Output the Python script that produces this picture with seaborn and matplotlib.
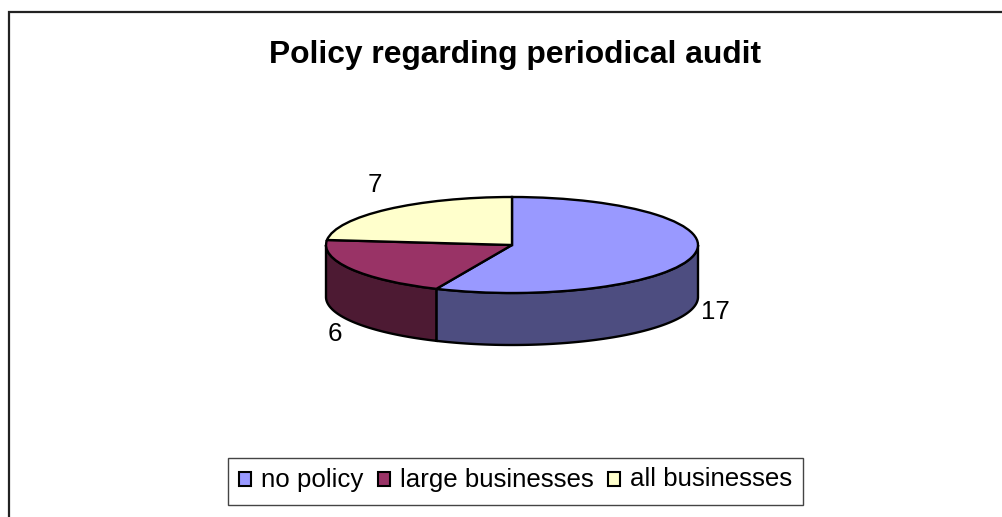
"""
Policy regarding periodical audit: 3D look pie, drawn on a squashed pie axes.
"""
import matplotlib
matplotlib.use("Agg")
import matplotlib.pyplot as plt
import numpy as np
import seaborn as sns

labels = ["no policy", "large businesses", "all businesses"]
counts = [17, 6, 7]
top_colors = ["#9999FF", "#993366", "#FFFFCC"]
side_colors = ["#4D4D80", "#4D1A33", "#808066"]

W, H = 1002, 517
CX, CY = 512, 245    # pie centre, pixels
RX, RY = 186, 48     # radii of the top ellipse, pixels
DEPTH = 52 / RY      # wall height in axes data units

sns.set_theme(style="white")
plt.rcParams["font.family"] = ["Liberation Sans", "DejaVu Sans"]

fig = plt.figure(figsize=(W / 100, H / 100), dpi=100, facecolor="white")

# frame of the chart area, open on right and bottom
bg = fig.add_axes([0, 0, 1, 1])
bg.set_xlim(0, W)
bg.set_ylim(H, 0)
bg.axis("off")
bg.plot([9.5, 9.5, 1002], [517, 11.5, 11.5], color="#222222", lw=1.6,
        solid_joinstyle="miter")

# axes spans pie radius 3 each way so x=+-1 lands on RX, RY and walls fit
span = 3
ax = fig.add_axes([(CX - span * RX) / W, 1 - (CY + span * RY) / H,
                   2 * span * RX / W, 2 * span * RY / H])
ax.patch.set_alpha(0)

# walls first, only the part of the rim facing the viewer (lower half)
edges = np.cumsum([0] + counts) / sum(counts) * 2 * np.pi
for i in range(len(counts)):
    a0, a1 = edges[i], edges[i + 1]
    lo, hi = max(a0, np.pi / 2), min(a1, 3 * np.pi / 2)
    if hi <= lo:
        continue
    t = np.linspace(lo, hi, 200)
    x, y = np.sin(t), np.cos(t)
    ax.fill(np.r_[x, x[::-1]], np.r_[y, y[::-1] - DEPTH],
            facecolor=side_colors[i], edgecolor="black", lw=1.7, zorder=1)

ax.pie(counts, colors=top_colors, startangle=90, counterclock=False, radius=1,
       wedgeprops={"edgecolor": "black", "linewidth": 1.7, "zorder": 2})
ax.set_aspect("auto")
ax.set_xlim(-span, span)
ax.set_ylim(-span, span)

# count labels
label_pos = [(715, 312), (335, 334), (375, 185)]
for n, (px, py) in zip(counts, label_pos):
    bg.text(px, py, str(n), fontsize=18.6, color="black", ha="center", va="center")

bg.text(515, 55, "Policy regarding periodical audit", fontsize=22.9, fontweight="bold",
        color="black", ha="center", va="center")

# legend box built by matplotlib
handles = [plt.Rectangle((0, 0), 1, 1, facecolor=c, edgecolor="black", lw=1.5)
           for c in top_colors]
leg = fig.legend(handles, labels, ncol=3, loc="center", bbox_to_anchor=(515.5 / W, 1 - 481.5 / H),
                 fontsize=18.6, labelcolor="black", frameon=True, fancybox=False,
                 edgecolor="#444444", framealpha=1, handlelength=0.47, handleheight=0.47,
                 handletextpad=0.39, columnspacing=0.54, borderpad=0.43, borderaxespad=0)
leg.get_frame().set_linewidth(1.0)
# columns without descenders sit a bit off, nudge the texts onto one line
for txt, dy in zip(leg.get_texts(), [2, 2, 2]):
    txt.set_y(dy)

fig.savefig("out.png", dpi=100)
